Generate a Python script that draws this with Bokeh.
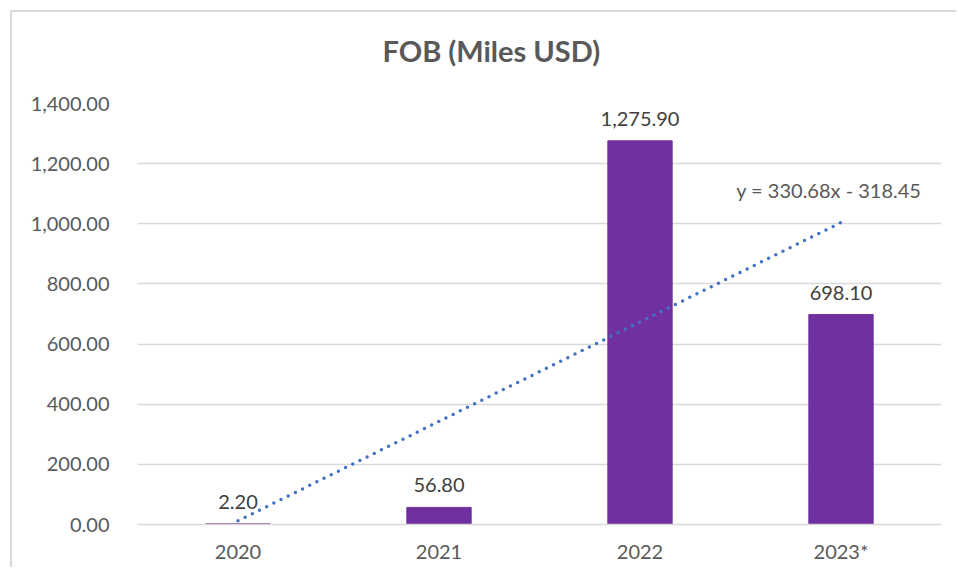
import numpy as np
from bokeh.plotting import figure
from bokeh.models import (ColumnDataSource, FixedTicker, NumeralTickFormatter, Label, Range1d,
                          FactorRange, Title)
from bokeh.core.properties import value
from bokeh.embed import file_html
from bokeh.resources import INLINE

# ---- data ----
years = ["2020", "2021", "2022", "2023*"]
fob = [2.20, 56.80, 1275.90, 698.10]
fob_labels = ["2.20", "56.80", "1,275.90", "698.10"]
y_ticks = [0, 200, 400, 600, 800, 1000, 1200, 1400]
title_text = "FOB (Miles USD)"

# linear trend (Excel-style, x = 1..n)
xi = np.arange(1, len(fob) + 1)
slope, intercept = np.polyfit(xi, fob, 1)
trend_label = f"y = {slope:.2f}x - {abs(intercept):.2f}"

FONT = "Lato"
GRAY = "#595959"

p = figure(x_range=FactorRange(*years, range_padding=0), y_range=Range1d(0, 1400),
           width=946, height=557, output_backend="svg", toolbar_location=None,
           title_location=None,
           min_border_left=125, min_border_right=17, min_border_top=91, min_border_bottom=45)
p.styles = {"border-left": "2px solid #d9d9d9", "border-top": "2px solid #d9d9d9",
            "margin-left": "10px", "margin-top": "10px"}

# spacer between frame and title, then the title itself (added later = further from frame)
p.add_layout(Title(text=" ", text_font_size="20px", standoff=12, text_color="white"), "above")
p.add_layout(Title(text=title_text, text_font=FONT, text_font_size="29px", text_font_style="bold",
                   text_color=GRAY, align="left", offset=245, standoff=0), "above")

p.outline_line_color = None
p.background_fill_color = "white"
p.border_fill_color = "white"

src = ColumnDataSource(dict(x=years, y=fob, lab=fob_labels))
p.vbar(x="x", top="y", width=0.32, source=src, fill_color="#7030A0", line_color="#7030A0")

p.text(x="x", y="y", text="lab", source=src, text_align="center", text_baseline="middle",
       y_offset=-22, text_font=value(FONT), text_font_size="20px", text_color="#404040")

# trendline drawn over synthetic categorical coordinates (center of factor i is i-0.5)
tx = [xi[0] - 0.5, xi[-1] - 0.5]
ty = [slope * xi[0] + intercept, slope * xi[-1] + intercept]
p.line(tx, ty, line_color="#4472C4", line_width=3.5, line_dash="0 8", line_cap="round")

p.add_layout(Label(x=3.9, y=1112, text=trend_label, text_align="right", text_baseline="middle",
                   text_font=FONT, text_font_size="20px", text_color=GRAY))

# axes
p.yaxis.ticker = FixedTicker(ticks=y_ticks)
p.yaxis.formatter = NumeralTickFormatter(format="0,0.00")
p.yaxis.axis_line_color = None
p.yaxis.major_tick_line_color = None
p.yaxis.minor_tick_line_color = None
p.yaxis.major_label_text_font = FONT
p.yaxis.major_label_text_font_size = "20px"
p.yaxis.major_label_text_color = GRAY
p.yaxis.major_label_standoff = 22

p.xaxis.axis_line_color = "#d9d9d9"
p.xaxis.axis_line_width = 1.5
p.xaxis.major_tick_line_color = None
p.xaxis.minor_tick_line_color = None
p.xaxis.major_label_text_font = FONT
p.xaxis.major_label_text_font_size = "20px"
p.xaxis.major_label_text_color = GRAY
p.xaxis.major_label_standoff = 8

p.xgrid.grid_line_color = None
p.ygrid.grid_line_color = "#d9d9d9"
p.ygrid.grid_line_width = 1.5

open("out.html", "w").write(file_html(p, INLINE))
